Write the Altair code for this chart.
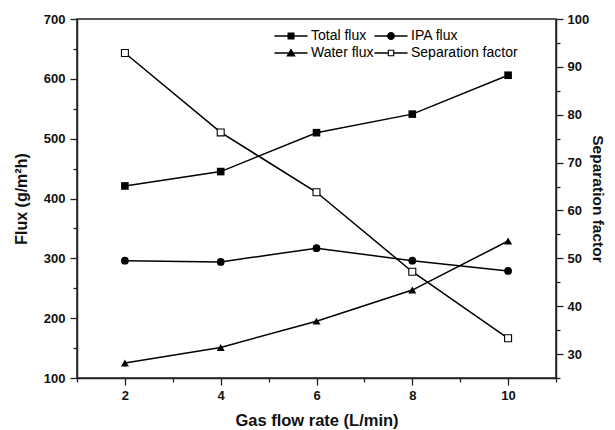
import altair as alt
import pandas as pd

# ---- data ----
rates = [2, 4, 6, 8, 10]
total_flux = [421, 445, 510, 541, 606]
ipa_flux = [296, 294, 317, 296, 279]
water_flux = [125, 151, 195, 247, 329]
separation = [92.9, 76.3, 63.8, 47.2, 33.3]

series_names = ["Total flux", "IPA flux", "Water flux", "Separation factor"]
# legend fills column by column: this order gives rows (Total, IPA) / (Water, Separation)
legend_order = ["Total flux", "Water flux", "IPA flux", "Separation factor"]
x_ticks = list(range(1, 12))
left_ticks = list(range(100, 701, 50))
right_ticks = list(range(25, 101, 5))

rows = []
for name, vals in zip(series_names, [total_flux, ipa_flux, water_flux, separation]):
    for r, v in zip(rates, vals):
        rows.append({"rate": r, "value": v, "series": name})
df = pd.DataFrame(rows)

FONT = "Liberation Sans"
AX = "#222222"
MAJ, MIN = 7, 4

x_enc = alt.X(
    "rate:Q",
    scale=alt.Scale(domain=[1, 11], nice=False, zero=False),
    axis=alt.Axis(
        values=x_ticks,
        labelExpr="datum.value % 2 === 0 ? datum.label : ''",
        tickSize={"condition": {"test": "datum.value % 2 === 0", "value": MAJ}, "value": MIN},
        title="Gas flow rate (L/min)",
        titleFontSize=16.5,
        titlePadding=10,
        labelPadding=4,
        grid=False,
    ),
)

yl_enc = alt.Y(
    "value:Q",
    scale=alt.Scale(domain=[100, 700], nice=False, zero=False),
    axis=alt.Axis(
        orient="left",
        values=left_ticks,
        labelExpr="datum.value % 100 === 0 ? datum.label : ''",
        tickSize={"condition": {"test": "datum.value % 100 === 0", "value": MAJ}, "value": MIN},
        title="Flux (g/m²h)",
        titleFontSize=16,
        titlePadding=14,
        labelPadding=5,
        grid=False,
    ),
)

yr_enc = alt.Y(
    "value:Q",
    scale=alt.Scale(domain=[25, 100], nice=False, zero=False),
    axis=alt.Axis(
        orient="right",
        values=right_ticks,
        labelExpr="datum.value % 10 === 0 ? datum.label : ''",
        tickSize={"condition": {"test": "datum.value % 10 === 0", "value": MAJ}, "value": MIN},
        title="Separation factor",
        titleFontSize=15.5,
        titlePadding=1,
        labelPadding=4,
        grid=False,
    ),
)

base = alt.Chart(df)
flux_names = series_names[:3]

flux_lines = base.transform_filter(
    alt.FieldOneOfPredicate(field="series", oneOf=flux_names)
).mark_line(color="black", strokeWidth=1.5).encode(x=x_enc, y=yl_enc, detail="series:N")

def pts(name, shape, size):
    return base.transform_filter(alt.datum.series == name).mark_point(
        shape=shape, filled=True, color="black", size=size, opacity=1
    ).encode(x=x_enc, y=yl_enc)

pts_total = pts("Total flux", "square", 58)
pts_ipa = pts("IPA flux", "circle", 60)
pts_water = pts("Water flux", "triangle-up", 64)

# legend glyphs "—marker—" drawn as filled paths (unit = sqrt(size)/2 px)
seg = "M-3.3,-0.15H{a}V0.15H-3.3ZM{b},-0.15H3.3V0.15H{b}Z"
legend_paths = {
    "Total flux": seg.format(a=-0.7, b=0.7) + "M-0.7,-0.7H0.7V0.7H-0.7Z",
    "IPA flux": seg.format(a=-0.78, b=0.78) + "M-0.8,0A0.8,0.8 0 1,1 0.8,0A0.8,0.8 0 1,1 -0.8,0Z",
    "Water flux": seg.format(a=-0.5, b=0.5) + "M0,-0.95L0.95,0.7H-0.95Z",
    "Separation factor": seg.format(a=-0.65, b=0.65)
    + "M-0.65,-0.65H0.65V0.65H-0.65ZM-0.43,-0.43V0.43H0.43V-0.43Z",
}

legend_layer = base.transform_calculate(value="-1000").mark_point(
    clip=True, filled=True, color="black", size=100
).encode(
    x=x_enc,
    y=yl_enc,
    shape=alt.Shape(
        "series:N",
        scale=alt.Scale(domain=legend_order, range=[legend_paths[n] for n in legend_order]),
        legend=alt.Legend(
            title=None,
            orient="none",
            legendX=207,
            legendY=10,
            columns=2,
            symbolSize=100,
            symbolFillColor="black",
            symbolStrokeColor="black",
            symbolStrokeWidth=0,
            symbolOpacity=1,
            labelFont=FONT,
            labelFontSize=14,
            labelColor="black",
            labelOffset=13,
            columnPadding=0,
            rowPadding=3,
            padding=0,
        ),
    ),
)

left = alt.layer(flux_lines, pts_total, pts_ipa, pts_water, legend_layer)

sep_base = base.transform_filter(alt.datum.series == "Separation factor")
sep_line = sep_base.mark_line(color="black", strokeWidth=1.5).encode(x=x_enc, y=yr_enc)
sep_pts = sep_base.mark_point(
    shape="square", filled=True, fill="white", stroke="black", strokeWidth=1.1, size=48, opacity=1
).encode(x=x_enc, y=yr_enc)
right = alt.layer(sep_line, sep_pts)

chart = (
    alt.layer(left, right)
    .resolve_scale(y="independent")
    .properties(
        width=479,
        height=359,
        autosize=alt.AutoSizeParams(type="none"),
        padding={"left": 69, "top": 11, "right": 51, "bottom": 54},
        background="white",
    )
    .configure_view(stroke=AX, strokeWidth=1.5)
    .configure_axis(
        labelFont=FONT,
        labelFontSize=13,
        labelFontWeight="bold",
        labelColor="#111111",
        titleFont=FONT,
        titleFontWeight="bold",
        titleColor="#111111",
        domainColor=AX,
        domainWidth=1.5,
        tickColor=AX,
        tickWidth=1.3,
    )
)

chart.save("out.html", embed_options={"renderer": "svg", "actions": False})
